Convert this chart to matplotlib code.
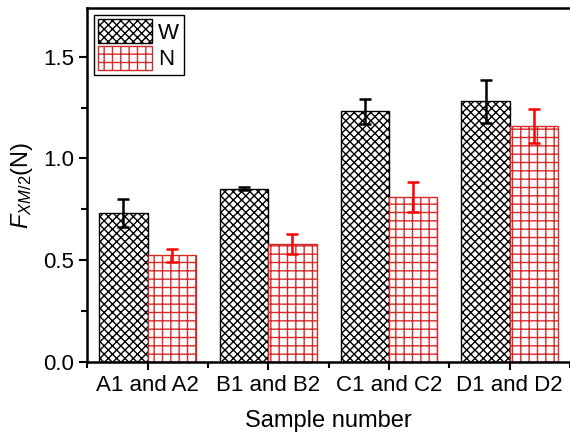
import matplotlib
matplotlib.use("Agg")
import matplotlib.pyplot as plt
import numpy as np

plt.rcParams.update({
    'font.family': ['Liberation Sans', 'DejaVu Sans'],
    'font.size': 16,
    'mathtext.fontset': 'custom',
    'mathtext.rm': 'Liberation Sans',
    'mathtext.it': 'Liberation Sans:italic',
    'hatch.linewidth': 1.0,
})

# data
samples = ["A1 and A2", "B1 and B2", "C1 and C2", "D1 and D2"]
w_vals = [0.733, 0.851, 1.231, 1.280]
w_errs = [0.068, 0.008, 0.062, 0.105]
n_vals = [0.523, 0.580, 0.810, 1.160]
n_errs = [0.033, 0.048, 0.075, 0.082]

x = np.arange(len(samples))
width = 0.4
red = '#d42a2a'

fig = plt.figure(figsize=(5.70, 4.36), dpi=100)
ax = fig.add_axes([0.153, 0.170, 0.847, 0.812])

ax.bar(x - width / 2, w_vals, width, color='white', edgecolor='black',
       hatch='xxxx', linewidth=1.0, label='W')
ax.bar(x + width / 2, n_vals, width, color='white', edgecolor=red,
       hatch='++', linewidth=1.0, label='N')

ax.errorbar(x - width / 2, w_vals, yerr=w_errs, fmt='none', ecolor='black',
            elinewidth=1.8, capsize=4, capthick=1.8)
ax.errorbar(x + width / 2, n_vals, yerr=n_errs, fmt='none', ecolor='red',
            elinewidth=1.8, capsize=4, capthick=1.8)

ax.set_xlim(-0.5, 3.49)
ax.set_ylim(0, 1.74)
ax.set_xticks(x)
ax.set_xticklabels(samples)
ax.set_xticks(np.arange(-0.5, 3.6, 1.0), minor=True)
ax.set_yticks([0.0, 0.5, 1.0, 1.5])
ax.set_yticks(np.arange(0.25, 1.74, 0.5), minor=True)

ax.tick_params(which='major', direction='out', length=6, width=1.5, labelsize=16)
ax.tick_params(which='minor', direction='out', length=4, width=1.5)
for side in ['left', 'bottom', 'top']:
    ax.spines[side].set_linewidth(1.8)
ax.spines['right'].set_visible(False)

ax.set_xlabel("Sample number", labelpad=10, fontsize=17)
ax.set_ylabel(r"$\it{F}$$_{XM/2}$(N)", fontsize=17, labelpad=6)

leg = ax.legend(loc='upper left', bbox_to_anchor=(0.0, 1.0), fancybox=False,
                edgecolor='black', framealpha=1, handlelength=2.4,
                handleheight=1.3, handletextpad=0.3, borderpad=0.2,
                labelspacing=0.1, borderaxespad=0.3, fontsize=16)
leg.get_frame().set_linewidth(1.0)

fig.savefig("out.png", dpi=100)
